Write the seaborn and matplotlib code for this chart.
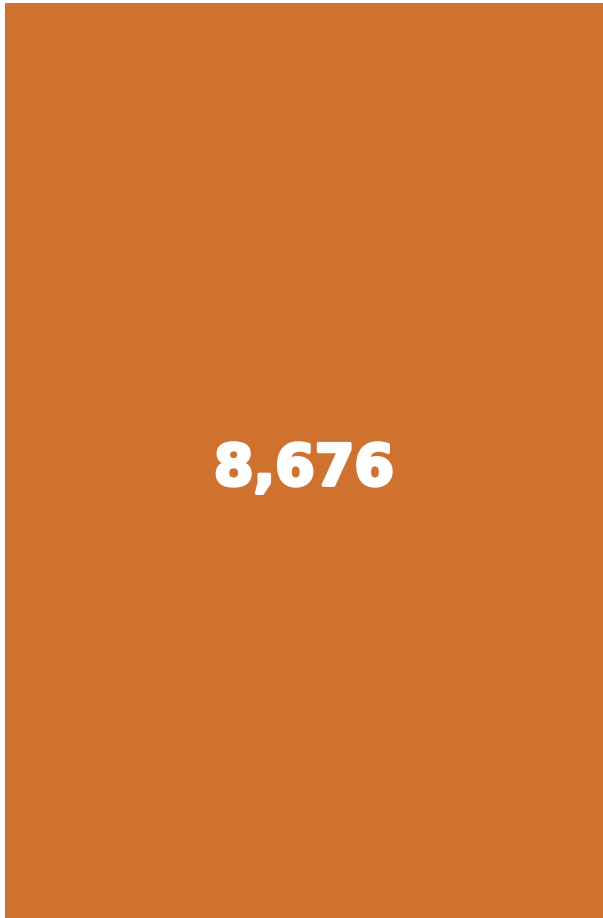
import matplotlib
matplotlib.use("Agg")
import matplotlib.pyplot as plt
import matplotlib.patheffects as pe
import seaborn as sns
import pandas as pd

# single-cell treemap: one category, one total
categories = ["Total"]
values = [8676]
cell_color = "#CF7230"

df = pd.DataFrame({"category": categories, "value": values})

sns.set_style("white")
fig = plt.figure(figsize=(6.03, 9.18), dpi=100)
ax = fig.add_axes([5 / 603, 0, 598 / 603, 915 / 918])

sns.barplot(data=df, x="category", y="value", color=cell_color, width=1.0,
            saturation=1, edgecolor="none", ax=ax)
ax.set_xlim(-0.5, 0.5)
ax.set_ylim(0, df["value"].max())
ax.axis("off")

# label, thickened with a stroke to look like a black-weight face
for i, v in enumerate(df["value"]):
    ax.text(i, v * 0.49, f"{v:,}", ha="center", va="center", color="white",
            fontsize=41, fontweight="heavy", family="DejaVu Sans",
            path_effects=[pe.withStroke(linewidth=2.5, foreground="white")])

fig.savefig("out.png", dpi=100)
